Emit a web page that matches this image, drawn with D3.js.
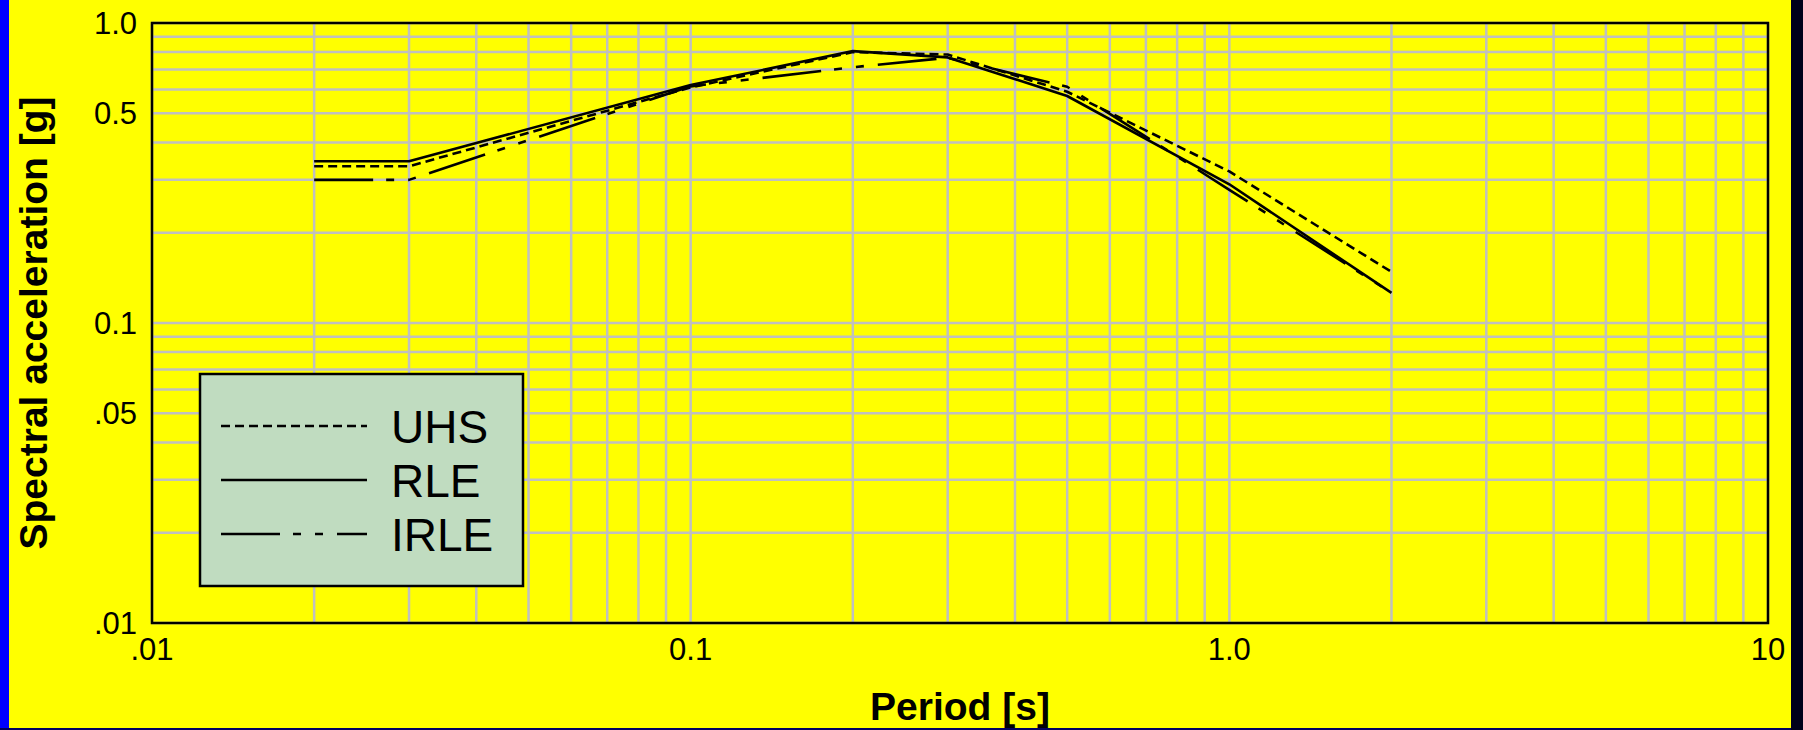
<!DOCTYPE html>
<html>
<head>
<meta charset="utf-8">
<script src="https://cdn.jsdelivr.net/npm/d3@7"></script>
<style>
  html, body { margin: 0; padding: 0; background: #ffff00; overflow: hidden; }
  svg { display: block; }
  text { font-family: "Liberation Sans", Arial, sans-serif; fill: #000; }
</style>
</head>
<body>
<div id="chart"></div>
<script>
// periods [s] and spectral accelerations [g]
const periods = [0.02, 0.03, 0.1, 0.2, 0.3, 0.5, 1.0, 2.0];
const uhsValues = [0.333, 0.333, 0.61, 0.80, 0.785, 0.59, 0.32, 0.148];
const rleValues = [0.346, 0.346, 0.621, 0.806, 0.768, 0.571, 0.29, 0.126];
const irleValues = [0.30, 0.30, 0.615, 0.712, 0.766, 0.613, 0.278, 0.126];

const seriesNames = ['UHS', 'RLE', 'IRLE'];

const xTickValues = [0.01, 0.1, 1, 10];
const xTickLabels = ['.01', '0.1', '1.0', '10'];
const yTickValues = [0.01, 0.05, 0.1, 0.5, 1];
const yTickLabels = ['.01', '.05', '0.1', '0.5', '1.0'];

const width = 1803, height = 730;
const plot = { left: 152, right: 1768, top: 23, bottom: 623 };

const svg = d3.select('#chart')
  .append('svg')
  .attr('width', width)
  .attr('height', height);

// page background + window borders
svg.append('rect').attr('width', width).attr('height', height).attr('fill', '#ffff00');
svg.append('rect').attr('x', 0).attr('y', 0).attr('width', 9).attr('height', height).attr('fill', '#0000ff');
svg.append('rect').attr('x', 1791).attr('y', 0).attr('width', 12).attr('height', height).attr('fill', '#00001a');
svg.append('rect').attr('x', 0).attr('y', 728).attr('width', 1791).attr('height', 2).attr('fill', '#000060');

const xScale = d3.scaleLog()
  .domain([0.01, 10])
  .range([plot.left, plot.right]);

const yScale = d3.scaleLog()
  .domain([0.01, 1])
  .range([plot.bottom, plot.top]);

// grid
const grid = svg.append('g').attr('stroke', '#c0c0c0').attr('stroke-width', 2.5);
grid.selectAll('.vgrid')
  .data(xScale.ticks())
  .enter()
  .append('line')
  .attr('class', 'vgrid')
  .attr('x1', d => xScale(d)).attr('x2', d => xScale(d))
  .attr('y1', plot.top).attr('y2', plot.bottom);
grid.selectAll('.hgrid')
  .data(yScale.ticks())
  .enter()
  .append('line')
  .attr('class', 'hgrid')
  .attr('x1', plot.left).attr('x2', plot.right)
  .attr('y1', d => yScale(d)).attr('y2', d => yScale(d));

// curves
const series = [
  { name: seriesNames[0], values: uhsValues, dash: '9,5' },
  { name: seriesNames[1], values: rleValues, dash: null },
  { name: seriesNames[2], values: irleValues, dash: '59,13,8,14,8,14' }
];

const line = d3.line()
  .x((d, i) => xScale(periods[i]))
  .y(d => yScale(d));

svg.selectAll('.curve')
  .data(series)
  .enter()
  .append('path')
  .attr('class', 'curve')
  .attr('d', d => line(d.values))
  .attr('fill', 'none')
  .attr('stroke', '#000')
  .attr('stroke-width', 2.6)
  .attr('stroke-linejoin', 'round')
  .attr('stroke-dasharray', d => d.dash);

// frame
svg.append('rect')
  .attr('x', plot.left).attr('y', plot.top)
  .attr('width', plot.right - plot.left)
  .attr('height', plot.bottom - plot.top)
  .attr('fill', 'none')
  .attr('stroke', '#000')
  .attr('stroke-width', 2.5);

// tick labels
svg.selectAll('.xlabel')
  .data(xTickValues)
  .enter()
  .append('text')
  .attr('class', 'xlabel')
  .attr('x', d => xScale(d))
  .attr('y', 660)
  .attr('text-anchor', 'middle')
  .style('font-size', '31px')
  .text((d, i) => xTickLabels[i]);

svg.selectAll('.ylabel')
  .data(yTickValues)
  .enter()
  .append('text')
  .attr('class', 'ylabel')
  .attr('x', 137)
  .attr('y', d => yScale(d) + 11)
  .attr('text-anchor', 'end')
  .style('font-size', '31px')
  .text((d, i) => yTickLabels[i]);

// axis titles
svg.append('text')
  .attr('x', (plot.left + plot.right) / 2)
  .attr('y', 720)
  .attr('text-anchor', 'middle')
  .style('font-size', '39px')
  .style('font-weight', 'bold')
  .text('Period [s]');

svg.append('text')
  .attr('transform', `translate(47, ${(plot.top + plot.bottom) / 2}) rotate(-90)`)
  .attr('text-anchor', 'middle')
  .style('font-size', '39px')
  .style('font-weight', 'bold')
  .text('Spectral acceleration [g]');

// legend
const legend = svg.append('g');
legend.append('rect')
  .attr('x', 200).attr('y', 374)
  .attr('width', 323).attr('height', 212)
  .attr('fill', '#c0dcc0')
  .attr('stroke', '#000')
  .attr('stroke-width', 2.5);

const items = legend.selectAll('.item')
  .data(series)
  .enter()
  .append('g')
  .attr('class', 'item')
  .attr('transform', (d, i) => `translate(0, ${426 + i * 54})`);
items.append('line')
  .attr('x1', 221).attr('x2', 367)
  .attr('y1', 0).attr('y2', 0)
  .attr('stroke', '#000')
  .attr('stroke-width', 2.5)
  .attr('stroke-dasharray', d => d.dash);
items.append('text')
  .attr('x', 391)
  .attr('y', 16.5)
  .style('font-size', '46px')
  .text(d => d.name);
</script>
</body>
</html>
